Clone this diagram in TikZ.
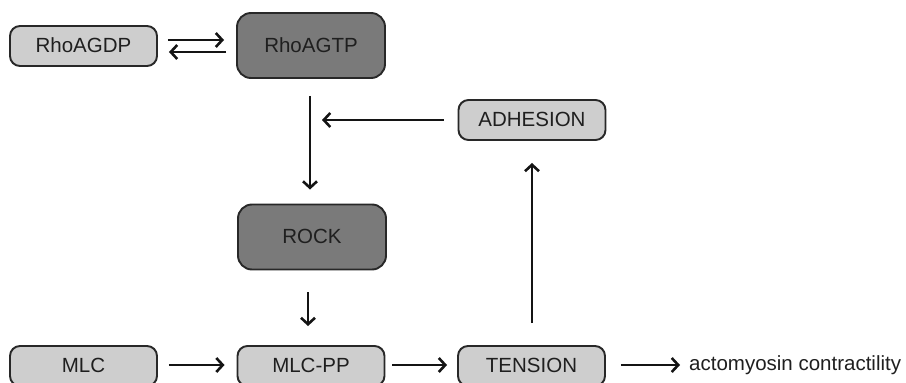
\documentclass[tikz,border=0pt]{standalone}
\usepackage{fontspec}
\setmainfont{Liberation Sans}
\usetikzlibrary{arrows.meta}
\definecolor{lightbox}{RGB}{206,206,206}
\definecolor{darkbox}{RGB}{122,122,122}
\definecolor{edge}{RGB}{40,40,40}
\tikzset{
  boxbase/.style={draw=edge, line width=1.9pt, align=center, inner sep=0pt,
    font=\fontsize{20.5}{24}\selectfont, text=black!88, text depth=1pt},
  lbox/.style={boxbase, fill=lightbox, rounded corners=10pt, minimum width=147pt, minimum height=40pt},
  dbox/.style={boxbase, fill=darkbox, rounded corners=14pt, minimum width=148pt, minimum height=65pt},
  arr/.style={line width=2.1pt, draw=black!92, -{Straight Barb[length=6.5pt,width=14pt,line width=2.6pt]}},
}
\begin{document}
\begin{tikzpicture}[x=1pt,y=-1pt]
\useasboundingbox (0,0) rectangle (906,383);
\clip (0,0) rectangle (906,383);
\node[lbox] (gdp) at (83.5,46) {RhoAGDP};
\node[dbox] (gtp) at (311,45.5) {RhoAGTP};
\node[dbox] (rock) at (312,237) {ROCK};
\node[lbox] (adh) at (532,120) {ADHESION};
\node[lbox] (mlc) at (83.5,366) {MLC};
\node[lbox] (mlcpp) at (311,366) {MLC-PP};
\node[lbox] (ten) at (531.5,366) {TENSION};
\node[anchor=west, inner sep=0pt, font=\fontsize{20.5}{24}\selectfont, text=black!88] (act) at (689,365) {actomyosin contractility};
% double arrows
\draw[arr, shorten <=10pt, shorten >=12pt] ([yshift=6pt]gdp.east) -- ([yshift=6pt]gdp.east -| gtp.west);
\draw[arr, shorten <=10pt, shorten >=11pt] ([yshift=-6pt]gdp.east -| gtp.west) -- ([yshift=-6pt]gdp.east);
% vertical
\draw[arr, shorten <=17pt, shorten >=14pt] (gtp.south -| 310,0) -- (rock.north -| 310,0);
\draw[arr, shorten <=22pt, shorten >=19pt] (rock.south -| 308,0) -- (mlcpp.north -| 308,0);
\draw[arr, shorten <=22pt, shorten >=22pt] (ten.north -| 532,0) -- (adh.south -| 532,0);
\draw[arr, shorten <=14pt, shorten >=0pt] (adh.west) -- (322,120);
% bottom row
\draw[arr, shorten <=11pt, shorten >=12pt] ([yshift=1pt]mlc.east) -- ([yshift=1pt]mlcpp.west);
\draw[arr, shorten <=7pt, shorten >=10pt] ([yshift=1pt]mlcpp.east) -- ([yshift=1pt]ten.west);
\draw[arr, shorten <=15pt, shorten >=9pt] ([yshift=1pt]ten.east) -- ([yshift=1pt]ten.east -| act.west);
\end{tikzpicture}
\end{document}
